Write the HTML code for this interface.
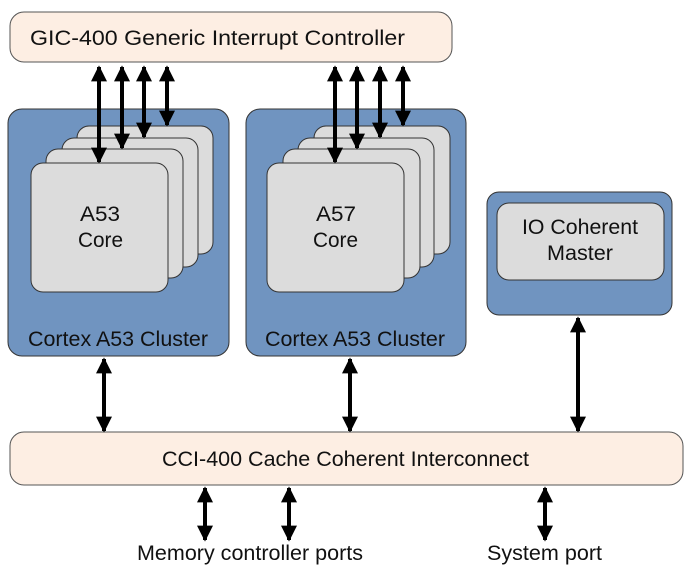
<!DOCTYPE html>
<html><head><style>body{margin:0;background:#fff}svg{display:block}text{font-family:"Liberation Sans",Arial,sans-serif;fill:#111}</style></head>
<body>
<svg width="694" height="571" viewBox="0 0 694 571">
<defs>
<marker id="a" viewBox="0 0 10 10" refX="9" refY="5" markerWidth="4" markerHeight="4" orient="auto-start-reverse"><path d="M0,0L10,5L0,10z" fill="#000"/></marker>
</defs>
<rect x="10" y="12" width="442" height="50" rx="14" fill="#fdeee3" stroke="#555"/>
<text x="30" y="45" font-size="21" textLength="375" lengthAdjust="spacingAndGlyphs">GIC-400 Generic Interrupt Controller</text>
<rect x="10" y="432" width="673" height="53" rx="14" fill="#fdeee3" stroke="#555"/>
<text x="162" y="466" font-size="21" textLength="367" lengthAdjust="spacingAndGlyphs">CCI-400 Cache Coherent Interconnect</text>

<g stroke="#333">
<rect x="8" y="109" width="221" height="247" rx="14" fill="#7094c0"/>
<rect x="77" y="126" width="136" height="128" rx="12" fill="#dcdcdc"/>
<rect x="62" y="138" width="136" height="129" rx="12" fill="#dcdcdc"/>
<rect x="46" y="149" width="137" height="129" rx="12" fill="#dcdcdc"/>
<rect x="31" y="163" width="137" height="129" rx="12" fill="#dcdcdc"/>
<rect x="246" y="109" width="220" height="247" rx="14" fill="#7094c0"/>
<rect x="314" y="126" width="136" height="128" rx="12" fill="#dcdcdc"/>
<rect x="298" y="138" width="136" height="129" rx="12" fill="#dcdcdc"/>
<rect x="283" y="149" width="137" height="129" rx="12" fill="#dcdcdc"/>
<rect x="267" y="163" width="137" height="129" rx="12" fill="#dcdcdc"/>
<rect x="487" y="192" width="185" height="123" rx="12" fill="#7094c0"/>
<rect x="497" y="203" width="167" height="77" rx="12" fill="#dcdcdc"/>
</g>
<text x="80" y="221" font-size="21" textLength="40" lengthAdjust="spacingAndGlyphs">A53</text>
<text x="78" y="247" font-size="21" textLength="45" lengthAdjust="spacingAndGlyphs">Core</text>
<text x="316" y="221" font-size="21" textLength="40" lengthAdjust="spacingAndGlyphs">A57</text>
<text x="313" y="247" font-size="21" textLength="45" lengthAdjust="spacingAndGlyphs">Core</text>
<text x="522" y="234" font-size="21" textLength="116" lengthAdjust="spacingAndGlyphs">IO Coherent</text>
<text x="547" y="260" font-size="21" textLength="66" lengthAdjust="spacingAndGlyphs">Master</text>
<text x="28" y="346" font-size="21" textLength="180" lengthAdjust="spacingAndGlyphs">Cortex A53 Cluster</text>
<text x="265" y="346" font-size="21" textLength="180" lengthAdjust="spacingAndGlyphs">Cortex A53 Cluster</text>
<text x="137" y="560" font-size="21" textLength="226" lengthAdjust="spacingAndGlyphs">Memory controller ports</text>
<text x="487" y="560" font-size="21" textLength="115" lengthAdjust="spacingAndGlyphs">System port</text>

<g stroke="#000" stroke-width="4" marker-start="url(#a)" marker-end="url(#a)">
<line x1="99" y1="67" x2="99" y2="162"/>
<line x1="122" y1="67" x2="122" y2="148"/>
<line x1="144" y1="67" x2="144" y2="137"/>
<line x1="167" y1="67" x2="167" y2="125"/>
<line x1="335" y1="67" x2="335" y2="162"/>
<line x1="357" y1="67" x2="357" y2="148"/>
<line x1="380" y1="67" x2="380" y2="137"/>
<line x1="403" y1="67" x2="403" y2="125"/>
<line x1="104" y1="359" x2="104" y2="431"/>
<line x1="350" y1="359" x2="350" y2="431"/>
<line x1="578" y1="318" x2="578" y2="431"/>
<line x1="205" y1="488" x2="205" y2="540"/>
<line x1="289" y1="488" x2="289" y2="540"/>
<line x1="545" y1="488" x2="545" y2="540"/>
</g>
</svg>
</body></html>
